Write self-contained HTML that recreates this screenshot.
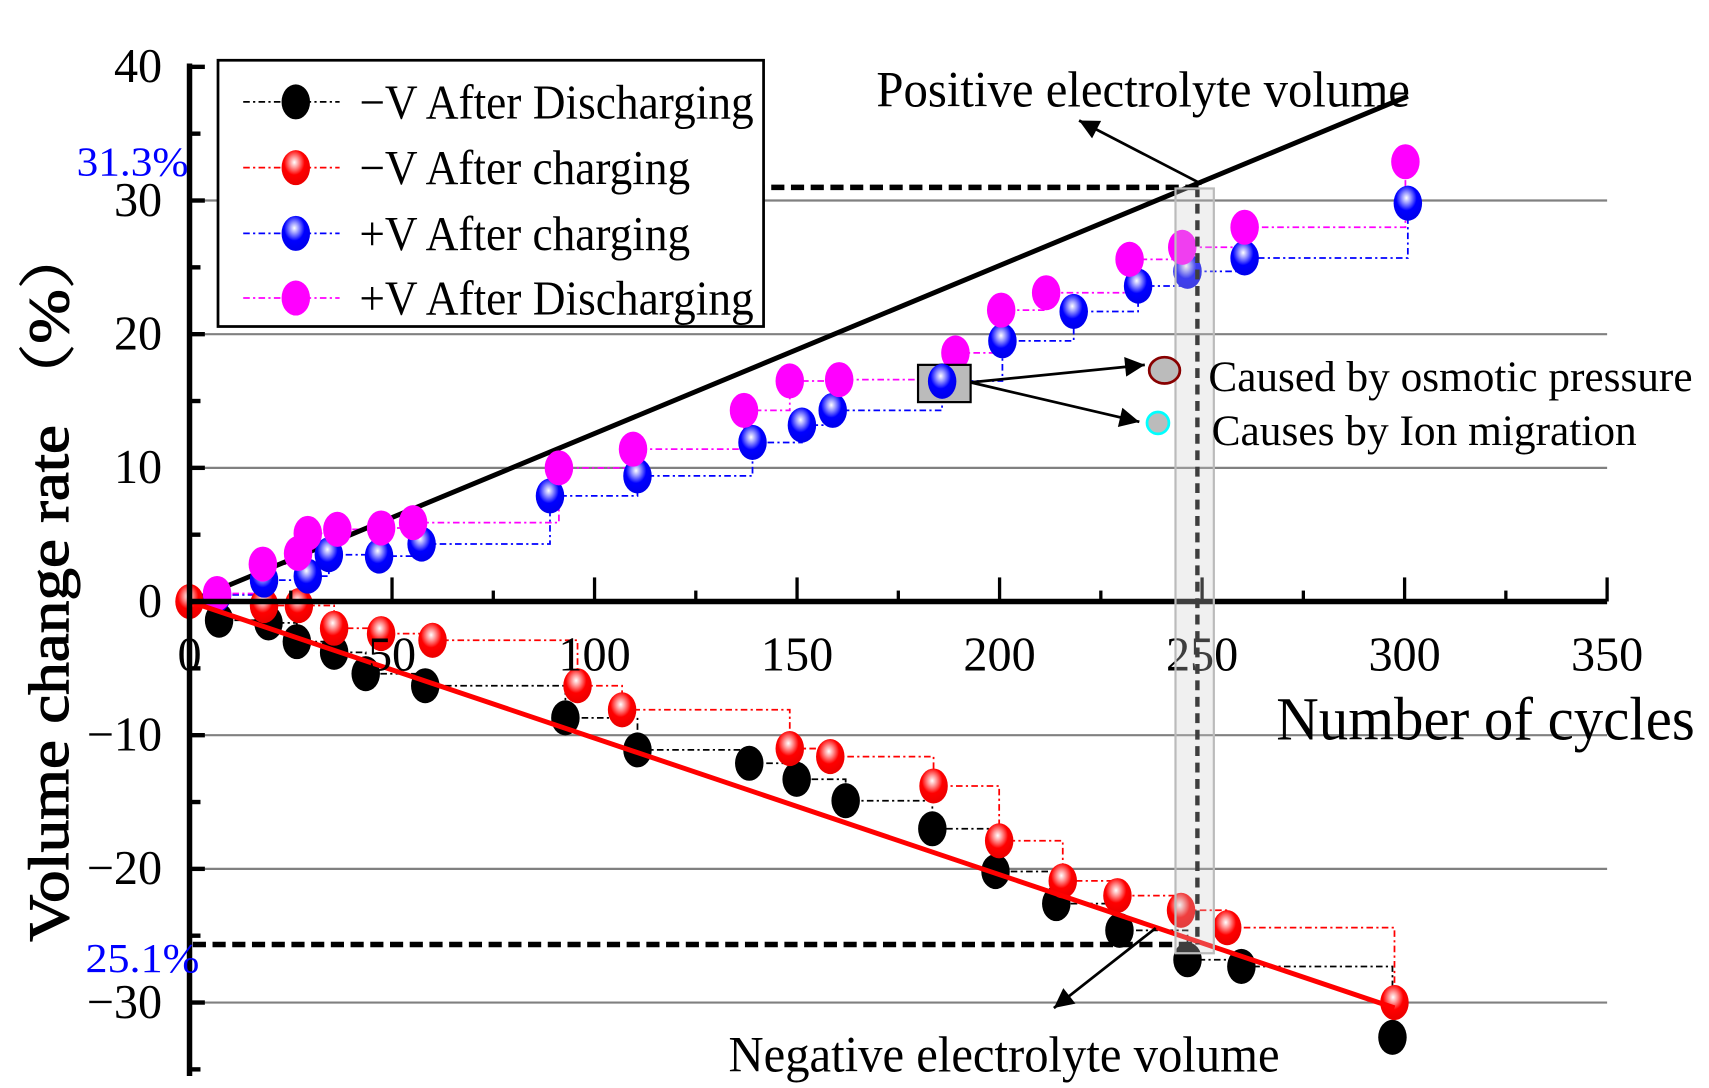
<!DOCTYPE html>
<html><head><meta charset="utf-8"><style>
html,body{margin:0;padding:0;background:#fff;}
svg{display:block;}
text{font-family:"Liberation Serif","Noto Serif CJK SC",serif;}
</style></head><body>
<svg id="chart" width="1709" height="1088" viewBox="0 0 1560 993" preserveAspectRatio="none" xmlns="http://www.w3.org/2000/svg">
<defs>
<radialGradient id="gRed" cx="0.45" cy="0.35" r="0.6"><stop offset="0" stop-color="#fff"/><stop offset="0.25" stop-color="#f99"/><stop offset="0.6" stop-color="#f00"/><stop offset="1" stop-color="#e00"/></radialGradient>
<radialGradient id="gBlue" cx="0.45" cy="0.35" r="0.6"><stop offset="0" stop-color="#fff"/><stop offset="0.25" stop-color="#99f"/><stop offset="0.6" stop-color="#00f"/><stop offset="1" stop-color="#00e"/></radialGradient>
<marker id="arr" viewBox="0 0 10 10" refX="10" refY="5" markerWidth="28" markerHeight="18" orient="auto" markerUnits="userSpaceOnUse"><path d="M0,0L10,5L0,10z" fill="#000"/></marker>
</defs>
<g id="grid"></g>
<g id="steps"></g>
<g id="refs"></g>
<g id="marks"></g>
<g id="axes"></g>
<g id="annot"></g>
</svg>
<script>
const xTicks = [0,50,100,150,200,250,300,350];
const yTicks = [40,30,20,10,0,-10,-20,-30];
const blackX = [7.3,19.5,26.5,35.7,43.5,58.2,92.8,110.6,138.2,149.9,162,183.4,199,214,229.6,246.4,259.7,297];
const blackY = [-1.4,-1.6,-3.0,-3.8,-5.4,-6.3,-8.7,-11.1,-12.1,-13.3,-14.9,-17.0,-20.2,-22.6,-24.6,-26.8,-27.3,-32.6];
const redX = [0,18.4,27,35.7,47.3,60,95.8,106.8,148.2,158.2,183.7,199.9,215.6,229.1,244.8,256.2,297.5];
const redY = [0,-0.3,-0.3,-2.0,-2.4,-2.9,-6.3,-8.1,-11.0,-11.6,-13.8,-17.9,-20.9,-22.0,-23.1,-24.4,-30.0];
const blueX = [6.8,18.4,29.2,34.4,46.8,57.3,89,110.6,139,151.2,158.8,185.8,200.7,218.3,234.2,246.4,260.5,300.8];
const blueY = [0.5,1.6,1.9,3.5,3.4,4.3,7.9,9.4,11.9,13.2,14.3,16.5,19.5,21.7,23.6,24.7,25.7,29.8];
const magX = [6.8,18.1,26.8,29.2,36.5,47.3,55.2,91.2,109.5,136.9,148.2,160.4,189.1,200.4,211.5,232.1,245.1,260.5,300.2];
const magY = [0.6,2.8,3.6,5.1,5.4,5.5,5.9,10.0,11.4,14.3,16.5,16.6,18.6,21.8,23.1,25.6,26.5,28.0,32.9];
const posLine = [[0,0],[300.8,37.8]];
const negLine = [[0,0],[297.5,-30.4]];
const NS="http://www.w3.org/2000/svg";
const X0=173,X1=1467,Y0=549;
function sx(v){return X0+v*(X1-X0)/350;}
function sy(v){return Y0-v*12.2;}
function mk(tag,attrs,parent,txt){const e=document.createElementNS(NS,tag);for(const k in attrs)e.setAttribute(k,attrs[k]);if(txt!==undefined)e.textContent=txt;document.getElementById(parent).appendChild(e);return e;}
[30,20,10,-10,-20,-30].forEach(v=>{const l=mk('line',{x1:X0,x2:X1,y1:sy(v),y2:sy(v),stroke:'#808080','stroke-width':2},'grid');

});
function steps(xs,ys,color,name){let d='';for(let i=0;i<xs.length;i++){d+=(i?'L':'M')+sx(xs[i])+','+sy(ys[i]);if(i<xs.length-1)d+='L'+sx(xs[i+1])+','+sy(ys[i]);}
const p=mk('path',{d:d,fill:'none',stroke:color,'stroke-width':1.6,'stroke-dasharray':'6,3,2,3'},'steps');

}
steps(blackX,blackY,'#000','neg-discharge');steps(redX,redY,'#f00','neg-charge');steps(blueX,blueY,'#00f','pos-charge');steps(magX,magY,'#f0f','pos-discharge');
const pl=mk('line',{x1:sx(posLine[0][0]),y1:sy(posLine[0][1]),x2:sx(posLine[1][0]),y2:sy(posLine[1][1]),stroke:'#000','stroke-width':4.5},'refs');


function pts(xs,ys,fill,name){for(let i=0;i<xs.length;i++){const e=mk('ellipse',{cx:sx(xs[i]),cy:sy(ys[i]),rx:13,ry:16,fill:fill},'marks');

}}
pts(blackX,blackY,'#000','neg-discharge');pts(redX,redY,'url(#gRed)','neg-charge');pts(blueX,blueY,'url(#gBlue)','pos-charge');pts(magX,magY,'#f0f','pos-discharge');
const nl=mk('line',{x1:sx(negLine[0][0]),y1:sy(negLine[0][1]),x2:sx(negLine[1][0]),y2:sy(negLine[1][1]),stroke:'#f00','stroke-width':4.5},'marks');


mk('line',{x1:X0,x2:X0,y1:58,y2:982,stroke:'#000','stroke-width':5},'axes');
mk('line',{x1:X0,x2:X1,y1:Y0,y2:Y0,stroke:'#000','stroke-width':5},'axes');
for(let v=-35;v<=40;v+=5){const maj=v%10===0;mk('line',{x1:X0,x2:X0+(maj?14:10),y1:sy(v),y2:sy(v),stroke:'#000','stroke-width':4},'axes');}
for(let v=25;v<=350;v+=25){const maj=v%50===0;mk('line',{x1:sx(v),x2:sx(v),y1:Y0,y2:Y0-(maj?22:10),stroke:'#000','stroke-width':3},'axes');}
xTicks.forEach(v=>{const t=mk('text',{x:sx(v),y:612,'font-size':44,'text-anchor':'middle'},'axes',String(v));

});
yTicks.forEach(v=>{const t=mk('text',{x:148,y:sy(v)+14,'font-size':44,'text-anchor':'end'},'axes',v<0?'\u2212'+(-v):String(v));

});
</script>
<script>
(function(){
const a=document.getElementById('annot');
a.innerHTML=`
<line x1="200" y1="171" x2="1097" y2="171" stroke="#000" stroke-width="5" stroke-dasharray="12,6"/>
<line x1="1093" y1="171" x2="1093" y2="862" stroke="#000" stroke-width="4" stroke-dasharray="9,6"/>
<line x1="176" y1="862" x2="1090" y2="862" stroke="#000" stroke-width="5" stroke-dasharray="12,6"/>
<rect x="1073" y="172" width="35" height="698" fill="#ccc" fill-opacity="0.3" stroke="#bbb" stroke-width="2"/>
<text x="70" y="160" font-size="38" fill="#00f" textLength="102" lengthAdjust="spacingAndGlyphs">31.3%</text>
<text x="78" y="887" font-size="38" fill="#00f" textLength="104" lengthAdjust="spacingAndGlyphs">25.1%</text>
<g>
<rect x="199" y="55" width="498" height="243" fill="#fff" stroke="#000" stroke-width="2.5"/>
<line x1="222" y1="93" x2="310" y2="93" stroke="#000" stroke-width="1.6" stroke-dasharray="6,3,2,3"/><ellipse cx="270" cy="93" rx="13" ry="16" fill="#000"/>
<text x="328" y="108" font-size="44" textLength="360" lengthAdjust="spacingAndGlyphs">−V After Discharging</text>
<line x1="222" y1="153" x2="310" y2="153" stroke="#f00" stroke-width="1.6" stroke-dasharray="6,3,2,3"/><ellipse cx="270" cy="153" rx="13" ry="16" fill="url(#gRed)"/>
<text x="328" y="168" font-size="44" textLength="302" lengthAdjust="spacingAndGlyphs">−V After charging</text>
<line x1="222" y1="213" x2="310" y2="213" stroke="#00f" stroke-width="1.6" stroke-dasharray="6,3,2,3"/><ellipse cx="270" cy="213" rx="13" ry="16" fill="url(#gBlue)"/>
<text x="328" y="228" font-size="44" textLength="302" lengthAdjust="spacingAndGlyphs">+V After charging</text>
<line x1="222" y1="272" x2="310" y2="272" stroke="#f0f" stroke-width="1.6" stroke-dasharray="6,3,2,3"/><ellipse cx="270" cy="272" rx="13" ry="16" fill="#f0f"/>
<text x="328" y="287" font-size="44" textLength="360" lengthAdjust="spacingAndGlyphs">+V After Discharging</text>
</g>
<text x="800" y="97" font-size="46" textLength="487" lengthAdjust="spacingAndGlyphs">Positive electrolyte volume</text>
<line x1="1097" y1="168" x2="985" y2="110" stroke="#000" stroke-width="2.5" marker-end="url(#arr)"/>
<text x="1165" y="675" font-size="56" textLength="382" lengthAdjust="spacingAndGlyphs">Number of cycles</text>
<text x="665" y="978" font-size="46" textLength="503" lengthAdjust="spacingAndGlyphs">Negative electrolyte volume</text>
<line x1="1055" y1="847" x2="962" y2="920" stroke="#000" stroke-width="2.5" marker-end="url(#arr)"/>
<rect x="838" y="333" width="48" height="34" fill="#bbb" stroke="#000" stroke-width="2"/>
<ellipse cx="860" cy="348" rx="13" ry="16" fill="url(#gBlue)"/>
<line x1="886" y1="349" x2="1045" y2="333" stroke="#000" stroke-width="2.5" marker-end="url(#arr)"/>
<line x1="886" y1="349" x2="1040" y2="385" stroke="#000" stroke-width="2.5" marker-end="url(#arr)"/>
<ellipse cx="1063" cy="338" rx="14" ry="12" fill="#bbb" stroke="#800" stroke-width="2.5"/>
<ellipse cx="1057" cy="386" rx="10" ry="10" fill="#bbb" stroke="#0ff" stroke-width="2.5"/>
<text x="1103" y="357" font-size="40" textLength="442" lengthAdjust="spacingAndGlyphs">Caused by osmotic pressure</text>
<text x="1106" y="406" font-size="40" textLength="388" lengthAdjust="spacingAndGlyphs">Causes by Ion migration</text>
<text transform="translate(62,532) rotate(-90)" font-size="52" text-anchor="middle" stroke="#000" stroke-width="1" textLength="655" lengthAdjust="spacingAndGlyphs">Volume change rate （%）</text>
`;
})();
</script>
</body></html>
